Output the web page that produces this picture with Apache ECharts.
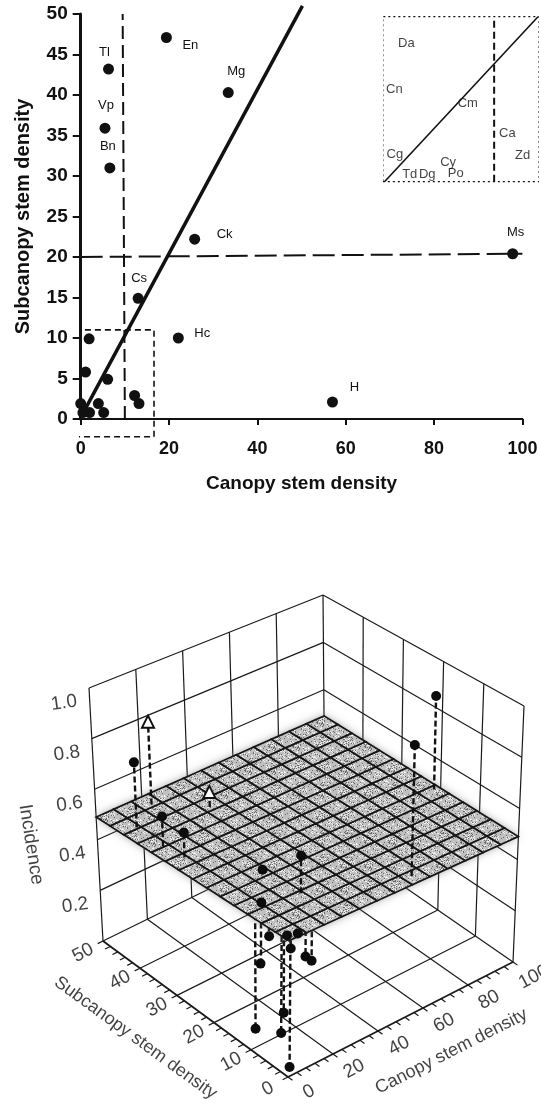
<!DOCTYPE html>
<html><head><meta charset="utf-8">
<script src="https://cdn.jsdelivr.net/npm/echarts@6/dist/echarts.min.js"></script>
<style>html,body{margin:0;padding:0;background:#fff}#c{width:541px;height:1107px;filter:blur(0.45px)}</style>
</head><body><div id="c"></div>
<script>
// ---- top panel data
const speciesNames = ['En','Tl','Mg','Vp','Bn','Ck','Ms','Cs','Hc','H','','','','','','','','','',''];
const canopyDensity = [19.4,6.3,33.4,5.5,6.6,25.8,97.8,13,22.1,57,1.9,1.1,6.1,0,4,5.2,12.2,13.2,2,0.5];
const subcanopyDensity = [47.1,43.2,40.3,35.9,31,22.2,20.4,14.9,10,2.1,9.9,5.8,4.9,1.9,1.9,0.8,2.9,1.9,0.8,0.8];
const labelDx = [24,-4,8,1,-2,30,3,1,24,22];
const labelDy = [8,-17,-21,-23,-21,-5,-21,-20,-5,-15];
const fitLine = [[0.5,0.7],[50.2,51]];
const vDash = [[10,0],[9.5,50]];
const hDash = [[0,20],[100,20.4]];
const zoomBox = [[-1.5,-2.2],[16.6,-2.2],[16.6,11],[-1.5,11],[-1.5,-2.2]];
// ---- inset data
const insetNames = ['Da','Cn','Cm','Ca','Zd','Cg','Cy','Td','Dg','Po'];
const insetX = [2,0.9,7.6,11.2,12.6,0.95,5.8,2.3,3.9,6.5];
const insetY = [11.7,7.8,6.6,4.1,2.2,2.35,1.6,0.65,0.65,0.7];
const insetFit = [[0,0],[14,14]];
const insetV = [[10,0],[10,14]];
const insetFrame = [[-0.15,0],[14.1,0],[14.1,14],[-0.15,14],[-0.15,0]];
// ---- 3D panel data
const canopy3d = [19.4,6.3,33.4,5.5,6.6,25.8,97.8,13,22.1,57,1.9,1.1,6.1,0,0.5,5.2,2,4,12.2,13.2,0];
const subcanopy3d = [47.1,43.2,40.3,35.9,31,22.2,20.4,14.9,10,2.1,9.9,5.8,4.9,1.9,0.8,0.8,0.8,1.9,2.9,1.9,7.4];
const incidence = [0.82,0.745,0.55,0.605,0.585,0.45,0.866,0.445,0.63,0.986,0.07,0.45,0.16,0.14,0.5,0.49,0.02,0.43,0.36,0.35,0.34];
const openTriangle = [0,2];
const surfaceLevel = 0.49;
const cellsCanopy = 13, cellsSub = 14;
const canopyTicks = [0,20,40,60,80,100];
const subTicks = [0,10,20,30,40,50];
const incTicks = [0.2,0.4,0.6,0.8,1.0];

// picture-space corners of the 3D box [canopy/100, sub/50, incidence]
const C = {'000':[288,1077],'100':[513,962],'010':[103,941],'110':[325,832],
           '001':[290,799],'101':[524,706],'011':[89,688],'111':[323,595]};
function project(x,y,z){
  const a=x/100,b=y/50; const out=[0,0];
  for(const i of [0,1]) for(const j of [0,1]) for(const k of [0,1]){
    const w=(i?a:1-a)*(j?b:1-b)*(k?z:1-z), p=C[''+i+j+k];
    out[0]+=w*p[0]; out[1]+=w*p[1];
  }
  return out;
}
const seg=(p,q)=>({coords:[project(...p),project(...q)]});
const wall=[],floor=[],ticks=[];
for(const z of incTicks){ wall.push(seg([0,50,z],[100,50,z])); wall.push(seg([100,50,z],[100,0,z])); }
for(const x of canopyTicks.slice(1,5)) wall.push(seg([x,50,0],[x,50,1]));
for(const y of subTicks.slice(1,5)) wall.push(seg([100,y,0],[100,y,1]));
wall.push(seg([0,50,0],[0,50,1]),seg([100,0,0],[100,0,1]),seg([100,50,0],[100,50,1]));
for(const x of canopyTicks.slice(1,5)) floor.push(seg([x,0,0],[x,50,0]));
for(const y of subTicks.slice(1,5)) floor.push(seg([0,y,0],[100,y,0]));
floor.push(seg([0,50,0],[100,50,0]),seg([100,0,0],[100,50,0]));
const edges=[seg([0,0,0],[100,0,0]),seg([0,0,0],[0,50,0])];
for(let x=0;x<=100;x+=4) ticks.push(seg([x,0,0],[x,-1.2,0]));
for(let y=0;y<=50;y+=2) ticks.push(seg([0,y,0],[-2.4,y,0]));
const idx=canopy3d.map((_,i)=>i);
const stem=i=>seg([canopy3d[i],subcanopy3d[i],surfaceLevel],[canopy3d[i],subcanopy3d[i],incidence[i]]);
const stemsAbove=idx.filter(i=>incidence[i]>surfaceLevel+0.03).map(stem);
const stemsBelow=idx.filter(i=>incidence[i]<surfaceLevel-0.03).map(stem);
const dotPts=idx.filter(i=>!openTriangle.includes(i)).map(i=>project(canopy3d[i],subcanopy3d[i],incidence[i]));
const triPts=openTriangle.map(i=>project(canopy3d[i],subcanopy3d[i],incidence[i]));

// speckle texture for the fitted surface (fixed pattern, no data in it)
const tex=document.createElement('canvas'); tex.width=tex.height=24;
{const g=tex.getContext('2d'); g.fillStyle='#c0c0c0'; g.fillRect(0,0,24,24);
 let s=7; for(let i=0;i<170;i++){ s=(s*73+41)%1009; const px=s%24; s=(s*73+41)%1009; const py=s%24;
   g.fillStyle=i%2?'#f2f2f2':'#6a6a6a'; g.fillRect(px,py,1,1);} }
const cells=[]; for(let i=0;i<cellsCanopy;i++) for(let j=0;j<cellsSub;j++) cells.push([i,j]);

const font='"Liberation Sans",Arial,sans-serif';
const G3={xAxisIndex:2,yAxisIndex:2};
const G2={xAxisIndex:1,yAxisIndex:1};
const G1={xAxisIndex:0,yAxisIndex:0};
const plain=(data,w,type,z,extra)=>Object.assign({type:'line',data,symbol:'none',silent:true,animation:false,z,clip:false,
   lineStyle:{color:'#111',width:w,type}},extra);
const seglines=(data,w,z,type,color)=>Object.assign({type:'lines',coordinateSystem:'cartesian2d',data,silent:true,animation:false,z,
   lineStyle:{color:color||'#1a1a1a',width:w,type:type||'solid',opacity:1}},G3);
const textPts=(items)=>Object.assign({type:'scatter',symbolSize:0,silent:true,animation:false,z:6,clip:false,
   data:items.map(t=>({value:[t.p[0]+t.o[0],t.p[1]+t.o[1]],label:{show:true,formatter:t.s,position:'inside',rotate:t.r||0,color:'#111',
     fontFamily:font,fontSize:t.f||19}}))},G3);

const labels3d=[];
canopyTicks.forEach(v=>labels3d.push({p:project(v,0,0),s:''+v,o:[21,15],r:28}));
subTicks.forEach(v=>labels3d.push({p:project(0,v,0),s:''+v,o:[-20,12],r:28}));
incTicks.forEach(v=>labels3d.push({p:project(0,50,v),s:v.toFixed(1),o:[-25,15],r:8}));
labels3d.push({p:project(50,0,0),s:'Canopy stem density',o:[51,32],r:27,f:18});
labels3d.push({p:project(0,25,0),s:'Subcanopy stem density',o:[-60,29],r:-36,f:18});
labels3d.push({p:project(0,50,0.5),s:'Incidence',o:[-65,30],r:-81,f:19});

const hiddenAxis=(i,max,inv)=>({gridIndex:i,type:'value',min:0,max,inverse:!!inv,show:false});
const option={
 animation:false,
 grid:[
  {left:80.7,top:14,width:441.7,height:405,outerBoundsMode:'none'},
  {left:384.5,top:16.7,width:153.5,height:165,outerBoundsMode:'none'},
  {left:0,top:0,width:541,height:1107,outerBoundsMode:'none'}
 ],
 xAxis:[
  {gridIndex:0,type:'value',min:0,max:100,interval:20,name:'Canopy stem density',nameLocation:'middle',nameGap:55,
   nameTextStyle:{fontFamily:font,fontWeight:'bold',fontSize:19,color:'#111'},
   axisLine:{lineStyle:{color:'#111',width:2}},axisTick:{length:6,lineStyle:{color:'#111',width:2}},splitLine:{show:false},
   axisLabel:{margin:21,fontFamily:font,fontWeight:'bold',fontSize:18,color:'#111',showMaxLabel:true,showMinLabel:true}},
  {gridIndex:1,type:'value',min:0,max:14,show:false},
  hiddenAxis(2,541)
 ],
 yAxis:[
  {gridIndex:0,type:'value',min:0,max:50,interval:5,name:'Subcanopy stem density',nameLocation:'middle',nameGap:47,
   nameTextStyle:{fontFamily:font,fontWeight:'bold',fontSize:20,color:'#111'},
   axisLine:{lineStyle:{color:'#111',width:3}},axisTick:{length:8,lineStyle:{color:'#111',width:2}},splitLine:{show:false},
   axisLabel:{margin:13,fontFamily:font,fontWeight:'bold',fontSize:19,color:'#111'}},
  {gridIndex:1,type:'value',min:0,max:14,show:false},
  hiddenAxis(2,1107,true)
 ],
 series:[
  plain(fitLine,3.5,'solid',3,G1),
  plain(vDash,2,[13,6],3,G1),
  plain(hDash,2,[22,7],3,G1),
  plain(zoomBox,1.6,[6,4],3,G1),
  Object.assign({type:'scatter',symbol:'circle',symbolSize:11,animation:false,silent:true,z:5,clip:false,
    itemStyle:{color:'#111',opacity:1},
    data:canopyDensity.map((x,i)=>({value:[x,subcanopyDensity[i]],label:{show:!!speciesNames[i],formatter:speciesNames[i]||' ',
      position:'inside',offset:[labelDx[i]||0,labelDy[i]||0],color:'#111',fontFamily:font,fontSize:13}}))},G1),
  plain(insetFrame,1.2,[2,3],3,G2),
  plain(insetFit,1.6,'solid',3,G2),
  plain(insetV,2,[7,4],3,G2),
  Object.assign({type:'scatter',symbolSize:0,animation:false,silent:true,z:5,
    data:insetX.map((x,i)=>({value:[x,insetY[i]],label:{show:true,formatter:insetNames[i],position:'inside',color:'#111',fontFamily:font,fontSize:13}}))},G2),

  seglines(wall,1.2,1),
  seglines(floor,1.2,1),
  seglines(edges,1.8,1),
  seglines(ticks,1.2,1),
  seglines(stemsBelow,2.4,2,[6,3],'#111'),
  Object.assign({type:'custom',silent:true,animation:false,z:2.5,clip:false,encode:{x:0,y:1},data:[[0,0]],
    renderItem:(p,api)=>({type:'polygon',
      shape:{points:[[0,0],[100,0],[100,50],[0,50]].map(q=>api.coord(project(q[0],q[1],surfaceLevel)))},
      style:{fill:'#bbb',shadowColor:'rgba(120,120,120,0.7)',shadowBlur:9}})},G3),
  Object.assign({type:'custom',silent:true,animation:false,z:3,clip:false,
    encode:{x:0,y:1},data:cells,
    renderItem:(p,api)=>{
      const i=api.value(0),j=api.value(1);
      const pts=[[i,j],[i+1,j],[i+1,j+1],[i,j+1]].map(q=>api.coord(project(q[0]/cellsCanopy*100,q[1]/cellsSub*50,surfaceLevel)));
      return {type:'polygon',shape:{points:pts},style:{fill:{image:tex,repeat:'repeat'},stroke:'#151515',lineWidth:1.7}};
    }},G3),
  seglines(stemsAbove,2.4,4,[6,3],'#111'),
  Object.assign({type:'scatter',symbol:'circle',symbolSize:10,data:dotPts,animation:false,silent:true,z:5,clip:false,itemStyle:{color:'#0c0c0c',opacity:1}},G3),
  Object.assign({type:'scatter',symbol:'triangle',symbolSize:12,data:triPts,animation:false,silent:true,z:5,clip:false,itemStyle:{color:'#fff',borderColor:'#111',borderWidth:2,opacity:1}},G3),
  textPts(labels3d)
 ]
};
echarts.init(document.getElementById('c'),null,{renderer:'canvas'}).setOption(option);
</script></body></html>
